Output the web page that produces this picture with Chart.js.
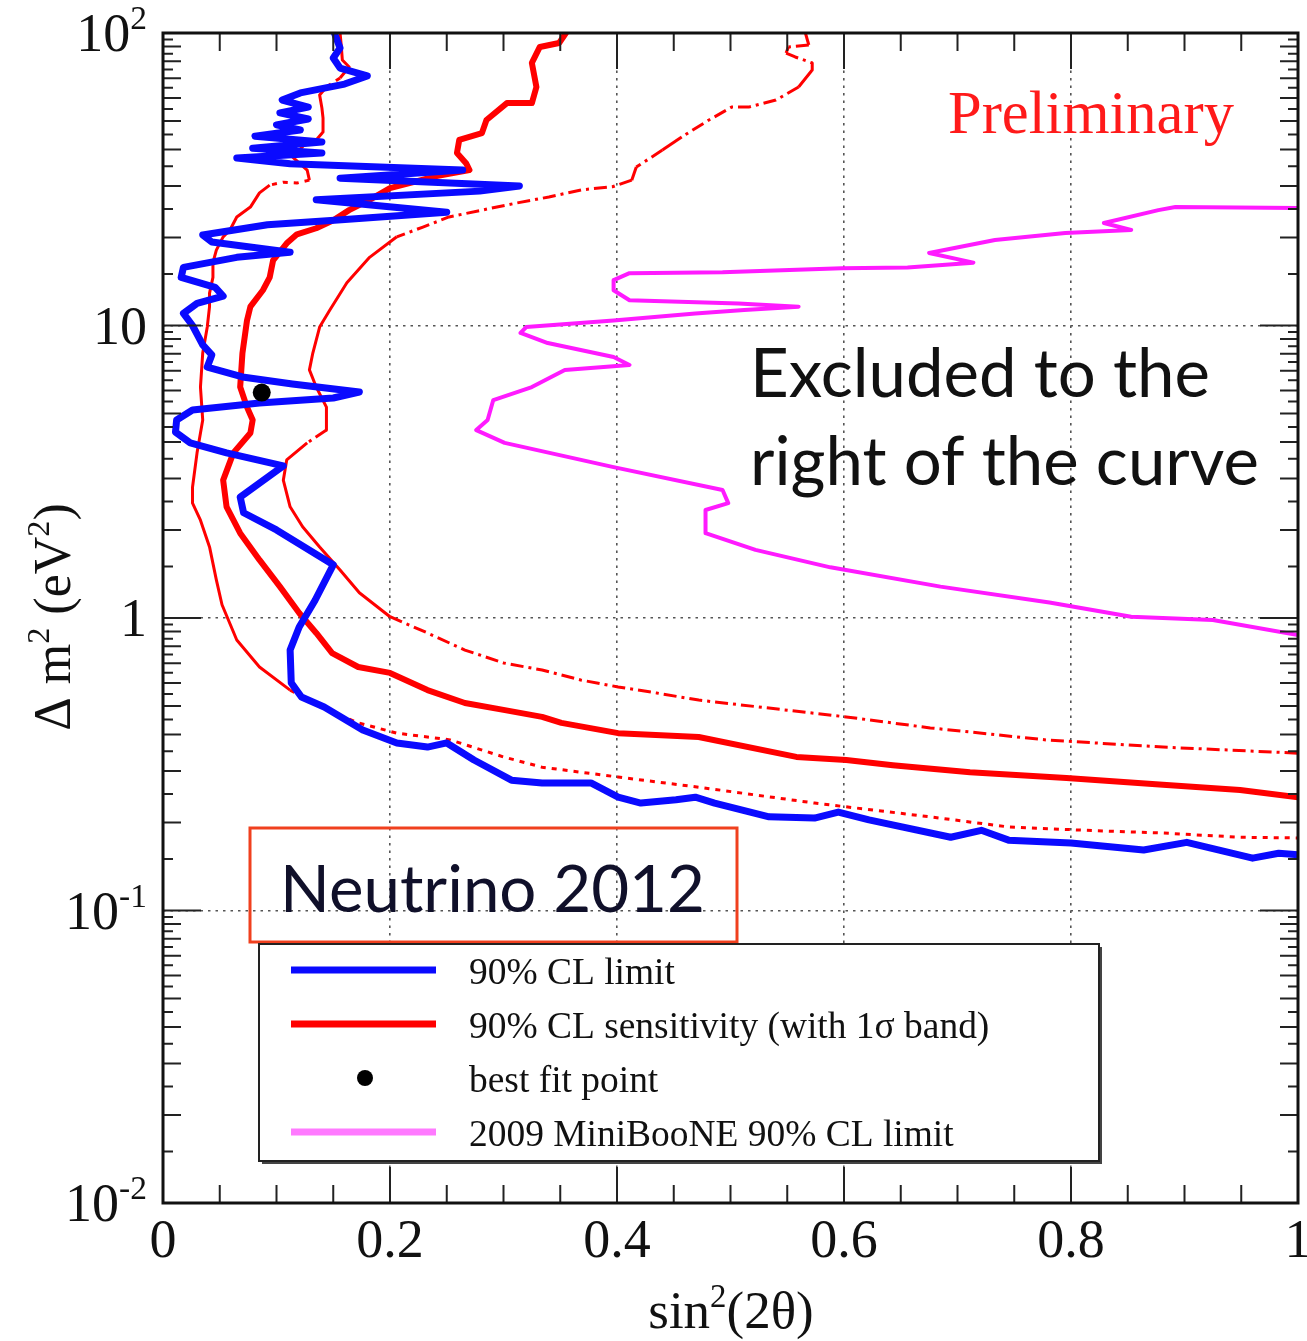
<!DOCTYPE html>
<html>
<head>
<meta charset="utf-8">
<script src="https://cdn.jsdelivr.net/npm/chart.js@4.4.1/dist/chart.umd.min.js"></script>
<style>
  html, body { margin: 0; padding: 0; background: #ffffff; }
  #wrap { width: 1307px; height: 1341px; }
</style>
</head>
<body>
<div id="wrap"><canvas id="c" width="1307" height="1341"></canvas></div>
<script>
// Exclusion contours in the (sin^2 2θ, Δm^2 [eV^2]) plane, each traced from high Δm^2 downward.

// 90% CL limit
const limitX = [0.151,0.156,0.150,0.156,0.180,0.160,0.121,0.105,0.128,0.103,
                0.128,0.100,0.121,0.081,0.140,0.079,0.140,0.065,0.112,0.264,
                0.156,0.314,0.279,0.135,0.250,0.151,0.092,0.035,0.043,0.112,
                0.065,0.018,0.016,0.046,0.053,0.030,0.018,0.026,0.035,0.043,
                0.039,0.070,0.114,0.173,0.150,0.085,0.026,0.012,0.011,0.024,
                0.056,0.106,0.068,0.071,0.100,0.150,0.134,0.120,0.112,0.113,
                0.122,0.142,0.176,0.206,0.233,0.250,0.274,0.307,0.334,0.377,
                0.401,0.421,0.452,0.469,0.486,0.534,0.574,0.595,0.622,0.694,
                0.721,0.745,0.800,0.864,0.902,0.960,0.983,1.000];
const limitY = [100,88.9,82.1,75.9,71.3,66.9,62.4,59.0,55.8,53.3,
                50.8,48.5,46.6,44.4,42.4,40.4,38.9,37.4,35.7,34.0,
                31.9,30.0,28.8,26.9,24.4,22.9,22.1,20.4,19.3,17.8,
                17.1,15.8,14.6,13.5,12.6,11.9,11.0,10.0,8.58,7.93,
                7.21,6.67,6.31,5.92,5.65,5.43,5.14,4.75,4.32,3.97,
                3.67,3.31,2.59,2.29,2.00,1.52,1.15,0.932,0.777,0.600,
                0.537,0.496,0.414,0.374,0.362,0.374,0.327,0.279,0.273,0.273,
                0.244,0.233,0.239,0.244,0.233,0.209,0.207,0.217,0.204,0.178,
                0.188,0.174,0.170,0.161,0.171,0.151,0.157,0.155];

// 90% CL sensitivity
const sensX = [0.355,0.349,0.332,0.325,0.329,0.325,0.303,0.285,0.281,0.261,
               0.259,0.267,0.270,0.241,0.200,0.182,0.164,0.150,0.135,0.118,
               0.109,0.097,0.094,0.088,0.077,0.074,0.070,0.068,0.074,0.079,
               0.077,0.062,0.053,0.056,0.068,0.085,0.103,0.120,0.135,0.149,
               0.172,0.200,0.233,0.266,0.300,0.334,0.351,0.401,0.472,0.558,
               0.602,0.643,0.711,0.796,0.881,0.949,1.000];
const sensY = [100,92.4,89.6,79.0,65.4,57.6,57.6,50.4,45.5,43.1,
               38.9,35.9,34.0,32.4,29.5,26.9,24.8,22.9,21.5,20.5,
               19.1,16.7,14.6,13.2,11.6,10.4,8.05,6.16,5.26,4.75,
               4.29,3.67,2.96,2.40,1.95,1.58,1.28,1.04,0.889,0.759,
               0.680,0.649,0.567,0.512,0.485,0.459,0.438,0.404,0.392,0.335,
               0.327,0.314,0.297,0.284,0.269,0.258,0.244];

// 1σ band, outer edge
const bandHighX = [0.566,0.569,0.551,0.549,0.557,0.572,0.572,0.560,0.540,0.516,
                   0.501,0.481,0.457,0.440,0.417,0.413,0.396,0.369,0.340,0.311,
                   0.281,0.252,0.229,0.206,0.182,0.162,0.147,0.138,0.132,0.129,
                   0.135,0.144,0.144,0.127,0.109,0.106,0.112,0.123,0.138,0.156,
                   0.173,0.200,0.233,0.266,0.300,0.334,0.368,0.401,0.435,0.472,
                   0.602,0.676,0.778,0.881,1.000];
const bandHighY = [100,91.0,89.6,85.4,82.8,79.0,74.7,65.4,59.0,55.8,
                   55.8,50.4,44.1,39.8,34.8,31.4,29.8,29.1,27.5,26.2,
                   24.8,23.5,21.7,20.1,17.1,14.0,11.3,9.88,8.05,7.05,
                   6.16,5.26,4.39,3.97,3.47,2.96,2.40,2.05,1.75,1.46,
                   1.22,1.01,0.889,0.777,0.702,0.664,0.614,0.581,0.554,0.524,
                   0.459,0.421,0.383,0.362,0.345];

// 1σ band, inner edge
const bandLowX = [0.156,0.157,0.158,0.164,0.156,0.144,0.138,0.140,0.141,0.141,
                  0.135,0.127,0.114,0.127,0.129,0.118,0.106,0.094,0.085,0.077,
                  0.065,0.059,0.053,0.047,0.044,0.044,0.041,0.041,0.039,0.035,
                  0.033,0.035,0.030,0.026,0.026,0.033,0.041,0.047,0.052,0.065,
                  0.085,0.112,0.139,0.172,0.206,0.253,0.300,0.334,0.401,0.472,
                  0.574,0.676,0.745,0.813,0.881,0.949,1.000];
const bandLowY = [100,91.0,80.9,76.5,70.2,65.4,61.4,55.4,51.2,45.9,
                  43.1,42.4,37.7,34.0,31.4,30.7,30.9,30.2,28.4,25.4,
                  23.5,21.2,20.1,18.1,16.4,14.6,12.9,11.6,9.88,8.05,
                  6.16,4.75,3.67,2.80,2.47,2.16,1.75,1.35,1.11,0.841,
                  0.680,0.567,0.496,0.438,0.404,0.383,0.335,0.309,0.286,0.264,
                  0.233,0.209,0.193,0.188,0.184,0.178,0.177];

// 2009 MiniBooNE 90% CL limit
const mbX = [1.000,0.892,0.877,0.829,0.853,0.795,0.733,0.675,0.714,0.656,
             0.598,0.493,0.411,0.397,0.397,0.411,0.507,0.560,0.512,0.469,
             0.397,0.320,0.315,0.339,0.397,0.411,0.354,0.325,0.291,0.286,
             0.276,0.301,0.397,0.493,0.498,0.478,0.478,0.522,0.588,0.685,
             0.781,0.853,0.925,1.000];
const mbY = [25.2,25.4,24.8,22.4,21.2,20.7,19.6,17.7,16.4,15.8,
             15.7,15.2,15.1,14.3,13.2,12.2,11.9,11.6,11.3,11.0,
             10.4,9.88,9.43,8.71,7.80,7.33,7.05,6.16,5.56,4.75,
             4.39,3.97,3.28,2.74,2.47,2.34,1.95,1.71,1.49,1.28,
             1.13,1.01,0.984,0.875];

// best fit point
const bestFitX = [0.087];
const bestFitY = [5.9];

// axis ticks and labels ([base, superscript])
const xTickValues = [0, 0.2, 0.4, 0.6, 0.8, 1];
const xTickLabels = ['0', '0.2', '0.4', '0.6', '0.8', '1'];
const yTickValues = [0.01, 0.1, 1, 10, 100];
const yTickLabels = [['10', '-2'], ['10', '-1'], ['1', ''], ['10', ''], ['10', '2']];

// legend entries
const legendLabels = ['90% CL limit', '90% CL sensitivity (with 1\u03c3 band)', 'best fit point', '2009 MiniBooNE 90% CL limit'];

const SERIF = '"Liberation Serif", "Times New Roman", serif';
const SANS = 'Lato, "Open Sans", sans-serif';

const BLUE = '#0a0aff';
const RED = '#ff0000';
const MAGENTA = '#ff1aff';

const toPoints = (xs, ys) => xs.map((x, i) => ({ x, y: ys[i] }));

// thin band lines come out broken where the curve runs mostly sideways
const sidewaysDash = pattern => ctx => {
  const dx = Math.abs(ctx.p1.x - ctx.p0.x);
  const dy = Math.abs(ctx.p1.y - ctx.p0.y);
  return dx > 1.5 * dy ? pattern : [];
};

function fitSize(ctx, text, family, width) {
  ctx.font = '100px ' + family;
  return 100 * width / ctx.measureText(text).width;
}

function richWidth(ctx, parts, size, family) {
  let w = 0;
  for (const p of parts) {
    ctx.font = (p.sup ? size * 0.62 : size) + 'px ' + family;
    w += ctx.measureText(p.t).width;
  }
  return w;
}

function drawRich(ctx, parts, x, y, size, family) {
  for (const p of parts) {
    const s = p.sup ? size * 0.62 : size;
    ctx.font = s + 'px ' + family;
    ctx.fillText(p.t, x, p.sup ? y - size * 0.4 : y);
    x += ctx.measureText(p.t).width;
  }
}

const decorations = {
  id: 'decorations',
  afterDraw(chart) {
    const ctx = chart.ctx;
    const xs = chart.scales.x, ys = chart.scales.y;
    const a = chart.chartArea;
    ctx.save();

    // inward tick marks on all four sides
    ctx.strokeStyle = '#222';
    ctx.lineWidth = 2;
    ctx.beginPath();
    for (let i = 0; i <= 20; i++) {
      const px = xs.getPixelForValue(i / 20);
      const len = i % 4 === 0 ? 36 : 18;
      ctx.moveTo(px, a.bottom); ctx.lineTo(px, a.bottom - len);
      ctx.moveTo(px, a.top); ctx.lineTo(px, a.top + len);
    }
    for (let d = -2; d < 2; d++) {
      for (let m = 1; m < 10; m += 0.5) {
        const py = ys.getPixelForValue(m * Math.pow(10, d));
        const len = m === 1 ? 38 : (Number.isInteger(m) ? 18 : 10);
        ctx.moveTo(a.left, py); ctx.lineTo(a.left + len, py);
        ctx.moveTo(a.right, py); ctx.lineTo(a.right - len, py);
      }
    }
    ctx.stroke();

    // frame
    ctx.lineWidth = 3;
    ctx.strokeStyle = '#111';
    ctx.strokeRect(a.left, a.top, a.right - a.left, a.bottom - a.top);

    // tick labels
    ctx.fillStyle = '#111';
    ctx.textBaseline = 'alphabetic';
    ctx.textAlign = 'left';
    const tickSize = 54;
    xTickValues.forEach((v, i) => {
      const px = xs.getPixelForValue(v);
      ctx.font = tickSize + 'px ' + SERIF;
      const w = ctx.measureText(xTickLabels[i]).width;
      ctx.fillText(xTickLabels[i], px - w / 2, 1257);
    });
    yTickValues.forEach((v, i) => {
      const py = ys.getPixelForValue(v);
      const [base, sup] = yTickLabels[i];
      const parts = [{ t: base }];
      if (sup) parts.push({ t: sup, sup: true });
      const w = richWidth(ctx, parts, tickSize, SERIF);
      drawRich(ctx, parts, 147 - w, py + 18, tickSize, SERIF);
    });

    // axis titles
    const xt = [{ t: 'sin' }, { t: '2', sup: true }, { t: '(2\u03b8)' }];
    const xtw = richWidth(ctx, xt, 53, SERIF);
    drawRich(ctx, xt, 731 - xtw / 2, 1328, 53, SERIF);

    const yt = [{ t: '\u0394 m' }, { t: '2', sup: true }, { t: ' (eV' }, { t: '2', sup: true }, { t: ')' }];
    ctx.save();
    ctx.translate(70, 617);
    ctx.rotate(-Math.PI / 2);
    const ytw = richWidth(ctx, yt, 52, SERIF);
    drawRich(ctx, yt, -ytw / 2, 0, 52, SERIF);
    ctx.restore();

    // "Preliminary"
    ctx.fillStyle = '#ff1a1a';
    ctx.font = fitSize(ctx, 'Preliminary', SERIF, 286) + 'px ' + SERIF;
    ctx.fillText('Preliminary', 948, 133);

    // exclusion note
    ctx.fillStyle = '#111';
    const noteSize = fitSize(ctx, 'Excluded to the', SANS, 460);
    ctx.font = noteSize + 'px ' + SANS;
    ctx.fillText('Excluded to the', 750, 397);
    ctx.fillText('right of the curve', 750, 485);

    // conference tag
    ctx.strokeStyle = '#f0401e';
    ctx.lineWidth = 3;
    ctx.strokeRect(250, 828, 487, 114);
    ctx.fillStyle = '#10102a';
    ctx.font = fitSize(ctx, 'Neutrino 2012', SANS, 425) + 'px ' + SANS;
    ctx.fillText('Neutrino 2012', 280, 912);

    // legend
    ctx.fillStyle = '#444';
    ctx.fillRect(262, 947, 840, 217);
    ctx.fillStyle = '#ffffff';
    ctx.fillRect(259, 944, 840, 217);
    ctx.strokeStyle = '#222';
    ctx.lineWidth = 2;
    ctx.strokeRect(259, 944, 840, 217);
    const rows = [970, 1024, 1078, 1132];
    const swatch = [BLUE, RED, null, '#ff7aff'];
    ctx.lineCap = 'butt';
    rows.forEach((ry, i) => {
      if (swatch[i]) {
        ctx.strokeStyle = swatch[i];
        ctx.lineWidth = 7;
        ctx.beginPath();
        ctx.moveTo(291, ry); ctx.lineTo(436, ry);
        ctx.stroke();
      } else {
        ctx.fillStyle = '#000';
        ctx.beginPath();
        ctx.arc(365, ry, 8, 0, Math.PI * 2);
        ctx.fill();
      }
    });
    const legSize = fitSize(ctx, legendLabels[0], SERIF, 206);
    ctx.fillStyle = '#111';
    ctx.font = legSize + 'px ' + SERIF;
    legendLabels.forEach((t, i) => ctx.fillText(t, 469, rows[i] + 14));

    ctx.restore();
  }
};

const edgeless = (v, lo, hi) =>
  (Math.abs(v - lo) < 1e-9 || Math.abs(v - hi) < 1e-9) ? 'rgba(0,0,0,0)' : '#555';

new Chart(document.getElementById('c'), {
  type: 'scatter',
  data: {
    datasets: [
      { label: 'best fit point', data: toPoints(bestFitX, bestFitY), showLine: false,
        pointRadius: 9, pointBackgroundColor: '#000', pointBorderWidth: 0 },
      { label: '90% CL limit', data: toPoints(limitX, limitY), showLine: true,
        borderColor: BLUE, borderWidth: 7, pointRadius: 0,
        borderJoinStyle: 'round', borderCapStyle: 'round' },
      { label: '90% CL sensitivity', data: toPoints(sensX, sensY), showLine: true,
        borderColor: RED, borderWidth: 6, pointRadius: 0,
        borderJoinStyle: 'round', borderCapStyle: 'round' },
      { label: '1 sigma band (outer)', data: toPoints(bandHighX, bandHighY), showLine: true,
        borderColor: RED, borderWidth: 3, pointRadius: 0, borderJoinStyle: 'round',
        segment: { borderDash: sidewaysDash([13, 5, 3, 5]) } },
      { label: '1 sigma band (inner)', data: toPoints(bandLowX, bandLowY), showLine: true,
        borderColor: RED, borderWidth: 3, pointRadius: 0, borderJoinStyle: 'round',
        segment: { borderDash: sidewaysDash([5, 6]) } },
      { label: '2009 MiniBooNE 90% CL limit', data: toPoints(mbX, mbY), showLine: true,
        borderColor: MAGENTA, borderWidth: 4, pointRadius: 0,
        borderJoinStyle: 'round', borderCapStyle: 'round' }
    ]
  },
  options: {
    responsive: false,
    animation: false,
    devicePixelRatio: 1,
    layout: { padding: { top: 33, right: 7, left: 0, bottom: 0 } },
    plugins: { legend: { display: false }, tooltip: { enabled: false } },
    scales: {
      x: {
        type: 'linear', position: 'bottom', min: 0, max: 1,
        ticks: { display: false, stepSize: 0.2 },
        grid: { color: c => edgeless(c.tick.value, 0, 1), lineWidth: 1.6, drawTicks: false, tickLength: 0 },
        border: { display: false, dash: [2.5, 5] },
        afterFit: s => { s.height = 138; }
      },
      y: {
        type: 'logarithmic', position: 'left', min: 0.01, max: 100,
        afterBuildTicks: s => { s.ticks = yTickValues.map(v => ({ value: v })); },
        ticks: { display: false },
        grid: { color: c => edgeless(c.tick.value, 0.01, 100), lineWidth: 1.6, drawTicks: false, tickLength: 0 },
        border: { display: false, dash: [2.5, 5] },
        afterFit: s => { s.width = 163; }
      }
    }
  },
  plugins: [decorations]
});
</script>
</body>
</html>
